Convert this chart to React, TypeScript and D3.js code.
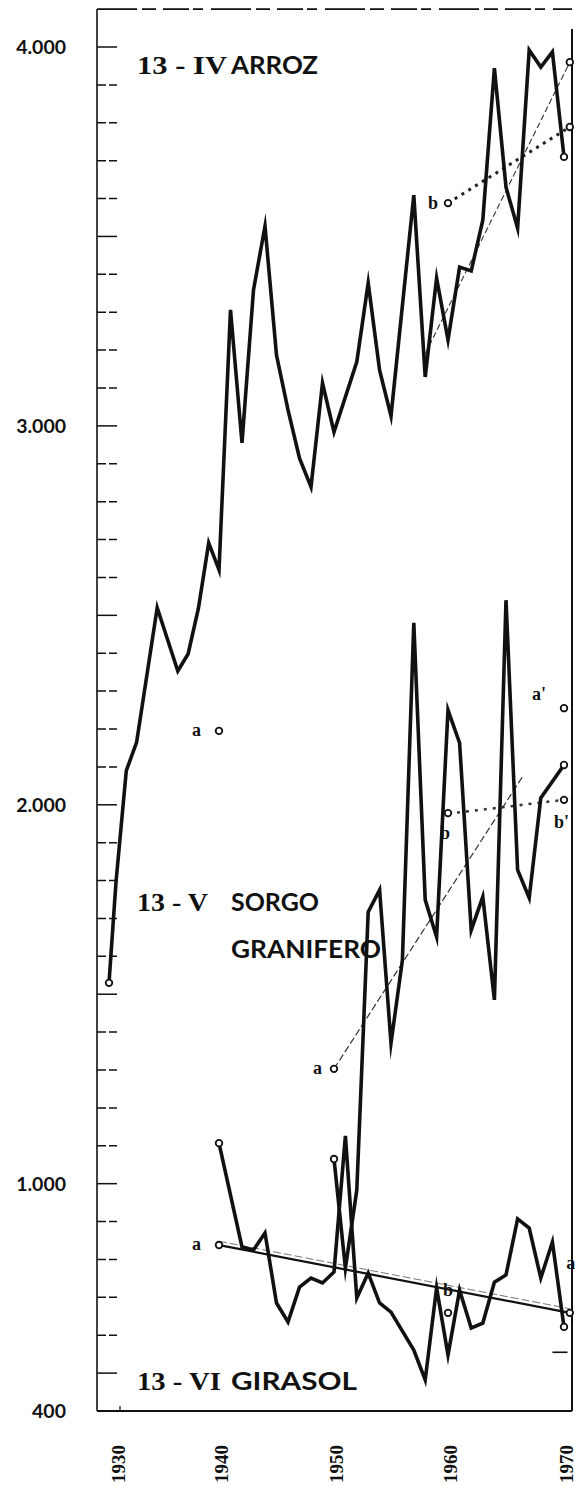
import React from 'react';
import * as d3 from 'd3';

const W = 575;
const H = 1487;

// ---- data (kg/ha) ----
const arrozYears = [1929,1930,1931,1932,1934,1936,1937,1938,1939,1940,1941,1942,1943,1944,1945,1946,1947,1948,1949,1950,1952,1953,1954,1955,1957,1958,1959,1960,1961,1962,1963,1964,1965,1966,1967,1968,1969,1970];
const arrozValues = [1530,1796,2090,2165,2520,2353,2398,2518,2691,2620,3306,2955,3359,3527,3187,3042,2915,2839,3113,2984,3169,3377,3147,3026,3609,3129,3390,3227,3419,3409,3543,3944,3630,3522,3992,3947,3987,3710];

const sorgoYears = [1950,1951,1952,1953,1954,1955,1956,1957,1958,1959,1960,1961,1962,1963,1964,1965,1966,1967,1968,1970];
const sorgoValues = [1065,777,983,1717,1775,1371,1590,2480,1749,1651,2250,2163,1669,1757,1485,2540,1828,1754,2018,2105];

const girasolYears = [1940,1942,1943,1944,1945,1946,1947,1948,1949,1950,1951,1952,1953,1954,1955,1957,1958,1959,1960,1961,1962,1963,1964,1965,1966,1967,1968,1969,1970];
const girasolValues = [1107,833,825,870,685,635,727,751,738,767,1126,698,764,685,661,561,482,725,548,719,619,632,740,759,907,883,751,846,622];

// trend lines
const arrozTrendAYears = [1958, 1970.5];
const arrozTrendAValues = [3190, 3960];
const arrozTrendBYears = [1960, 1970.5];
const arrozTrendBValues = [3588, 3789];
const sorgoTrendAYears = [1950, 1966.4];
const sorgoTrendAValues = [1303, 2073];
const sorgoTrendBYears = [1960, 1961, 1970];
const sorgoTrendBValues = [1978, 1980, 2013];
const girasolTrendYears = [1940, 1970.5];
const girasolTrendValues = [838, 659];
const girasolTrendThinValues = [848, 670];

const extraPoints = [
  { year: 1940, value: 2195, label: 'a' },
  { year: 1970, value: 2255, label: "a'" },
  { year: 1960, value: 659, label: 'b' },
];

const yTickValues = d3.range(500, 4100, 100);
const yLabelValues = [4000, 3000, 2000, 1000, 400];
const yLabelText = ['4.000', '3.000', '2.000', '1.000', '400'];
const xLabelYears = [1930, 1940, 1950, 1960, 1970];

const titles = [
  { num: '13 - IV', numW: 90, name: 'ARROZ', nameW: 87, name2: '', name2W: 0, value: 3930 },
  { num: '13 - V', numW: 71, name: 'SORGO', nameW: 88, name2: 'GRANIFERO', name2W: 150, value: 1720 },
  { num: '13 - VI', numW: 84, name: 'GIRASOL', nameW: 126, name2: '', name2W: 0, value: 455 },
];

const x = d3.scaleLinear()
  .domain([1929, 1930, 1940, 1950, 1960, 1970])
  .range([109, 116, 219, 334, 448, 564]);
const y = d3.scaleLinear().domain([400, 4000]).range([1411, 47]);

const X0 = 97;
const X1 = 572;
const YB = y(400);
const YT = y(4100);

const line = d3.line<[number, number]>().x(d => x(d[0])).y(d => y(d[1]));
const zip = (a: number[], b: number[]) => a.map((v, i) => [v, b[i]] as [number, number]);

const serif = '"Liberation Serif", "DejaVu Serif", serif';
const sans = 'Lato, "DejaVu Sans", sans-serif';

function Circle({ cx, cy }: { cx: number; cy: number }) {
  return <circle cx={cx} cy={cy} r={3.3} fill="#fff" stroke="#111" strokeWidth={1.8} />;
}

export default function App() {
  const arroz = zip(arrozYears, arrozValues);
  const sorgo = zip(sorgoYears, sorgoValues);
  const girasol = zip(girasolYears, girasolValues);
  const seriesStyle = { fill: 'none', stroke: '#111', strokeWidth: 3.6, strokeLinejoin: 'miter' as const, strokeMiterlimit: 10 };

  return (
    <svg width={W} height={H} style={{ position: 'absolute', left: 0, top: 0, background: '#fff' }}>
      <rect x={0} y={0} width={W} height={H} fill="#fff" />
      {/* frame */}
      <line x1={X0} y1={YT} x2={X0} y2={YB} stroke="#111" strokeWidth={1.6} />
      <line x1={X0} y1={YT} x2={X1} y2={YT} stroke="#111" strokeWidth={1.6} strokeDasharray="40,5,14,7,26,4,10,8" />
      <line x1={X1} y1={YT + 20} x2={X1} y2={YB} stroke="#111" strokeWidth={2} />
      <line x1={X0} y1={YB} x2={X1} y2={YB} stroke="#111" strokeWidth={2} />
      <line x1={x(1930) + 4} y1={YB} x2={x(1930) + 4} y2={YB - 5} stroke="#111" strokeWidth={1.2} />

      {/* y ticks */}
      {yTickValues.map(v => (
        <line key={v} x1={X0} x2={X0 + 20} y1={y(v)} y2={y(v)} stroke="#111" strokeWidth={1.5}
          strokeDasharray={v % 500 === 0 ? undefined : '9,3'} />
      ))}
      {yLabelValues.map((v, i) => (
        <text key={v} x={66} y={y(v)} dy="0.36em" textAnchor="end" fontFamily={sans} fontWeight={700} fontSize={19.5} fill="#111">
          {yLabelText[i]}
        </text>
      ))}
      {xLabelYears.map(yr => (
        <text key={yr} transform={`translate(${x(yr) + 2},${1464}) rotate(-90)`} textAnchor="middle" dominantBaseline="central"
          fontFamily={serif} fontWeight={700} fontSize={19} fill="#111">
          {yr}
        </text>
      ))}

      {/* titles */}
      {titles.map(t => (
        <g key={t.num} fill="#111">
          <text x={137} y={y(t.value)} fontSize={25} fontFamily={serif} fontWeight={700}
            textLength={t.numW} lengthAdjust="spacingAndGlyphs">{t.num}</text>
          <text x={231} y={y(t.value)} fontSize={24} fontFamily={sans} fontWeight={700}
            textLength={t.nameW} lengthAdjust="spacingAndGlyphs">{t.name}</text>
          {t.name2 && (
            <text x={231} y={y(t.value) + 47} fontSize={24} fontFamily={sans} fontWeight={700}
              textLength={t.name2W} lengthAdjust="spacingAndGlyphs">{t.name2}</text>
          )}
        </g>
      ))}

      {/* trend lines */}
      <path d={line(zip(arrozTrendAYears, arrozTrendAValues)) || ''} fill="none" stroke="#333" strokeWidth={1.1} strokeDasharray="6,3" />
      <path d={line(zip(arrozTrendBYears, arrozTrendBValues)) || ''} fill="none" stroke="#222" strokeWidth={3} strokeDasharray="3,5" />
      <path d={line(zip(sorgoTrendAYears, sorgoTrendAValues)) || ''} fill="none" stroke="#333" strokeWidth={1.2} strokeDasharray="7,3" />
      <path d={line(zip(sorgoTrendBYears, sorgoTrendBValues)) || ''} fill="none" stroke="#333" strokeWidth={2.5} strokeDasharray="3,6" />
      <path d={line(zip(girasolTrendYears, girasolTrendValues)) || ''} fill="none" stroke="#111" strokeWidth={2.2} />
      <path d={line(zip(girasolTrendYears, girasolTrendThinValues)) || ''} fill="none" stroke="#777" strokeWidth={1} strokeDasharray="8,3" />

      {/* series */}
      <path d={line(arroz) || ''} {...seriesStyle} />
      <path d={line(sorgo) || ''} {...seriesStyle} />
      <path d={line(girasol) || ''} {...seriesStyle} />

      {/* end circles */}
      <Circle cx={x(arroz[0][0])} cy={y(arroz[0][1])} />
      <Circle cx={x(arroz[arroz.length - 1][0])} cy={y(arroz[arroz.length - 1][1])} />
      <Circle cx={x(sorgo[0][0])} cy={y(sorgo[0][1])} />
      <Circle cx={x(sorgo[sorgo.length - 1][0])} cy={y(sorgo[sorgo.length - 1][1])} />
      <Circle cx={x(girasol[0][0])} cy={y(girasol[0][1])} />
      <Circle cx={x(girasol[girasol.length - 1][0])} cy={y(girasol[girasol.length - 1][1])} />

      {/* trend circles */}
      <Circle cx={x(arrozTrendAYears[1])} cy={y(arrozTrendAValues[1])} />
      <Circle cx={x(arrozTrendBYears[0])} cy={y(arrozTrendBValues[0])} />
      <Circle cx={x(arrozTrendBYears[1])} cy={y(arrozTrendBValues[1])} />
      <Circle cx={x(sorgoTrendAYears[0])} cy={y(sorgoTrendAValues[0])} />
      <Circle cx={x(sorgoTrendBYears[0])} cy={y(sorgoTrendBValues[0])} />
      <Circle cx={x(sorgoTrendBYears[2])} cy={y(sorgoTrendBValues[2])} />
      <Circle cx={x(girasolTrendYears[0])} cy={y(girasolTrendValues[0])} />
      <Circle cx={x(girasolTrendYears[1])} cy={y(girasolTrendValues[1])} />
      {extraPoints.map(p => (
        <Circle key={p.label + p.year} cx={x(p.year)} cy={y(p.value)} />
      ))}

      {/* small letters */}
      <g fontFamily={serif} fontWeight={700} fontSize={18} fill="#111">
        <text x={x(arrozTrendBYears[0]) - 10} y={y(arrozTrendBValues[0])} dy="0.35em" textAnchor="end">b</text>
        <text x={x(1940) - 18} y={y(2195)} dy="0.3em" textAnchor="end">a</text>
        <text x={x(1970) - 18} y={y(2255) - 14} dy="0.3em" textAnchor="end">a'</text>
        <text x={x(sorgoTrendAYears[0]) - 12} y={y(sorgoTrendAValues[0])} dy="0.3em" textAnchor="end">a</text>
        <text x={x(1960) - 3} y={y(1978) + 26} textAnchor="middle">b</text>
        <text x={x(1970) - 10} y={y(2013) + 28} textAnchor="start">b'</text>
        <text x={x(1940) - 18} y={y(838)} dy="0.3em" textAnchor="end">a</text>
        <text x={x(1960)} y={y(659) - 22} dy="0.3em" textAnchor="middle">b</text>
        <text x={x(1970.2)} y={y(790)} dy="0.3em" textAnchor="start">a</text>
      </g>
      <line x1={x(1969)} x2={x(1970.3)} y1={y(555)} y2={y(555)} stroke="#111" strokeWidth={1.6} />
    </svg>
  );
}
